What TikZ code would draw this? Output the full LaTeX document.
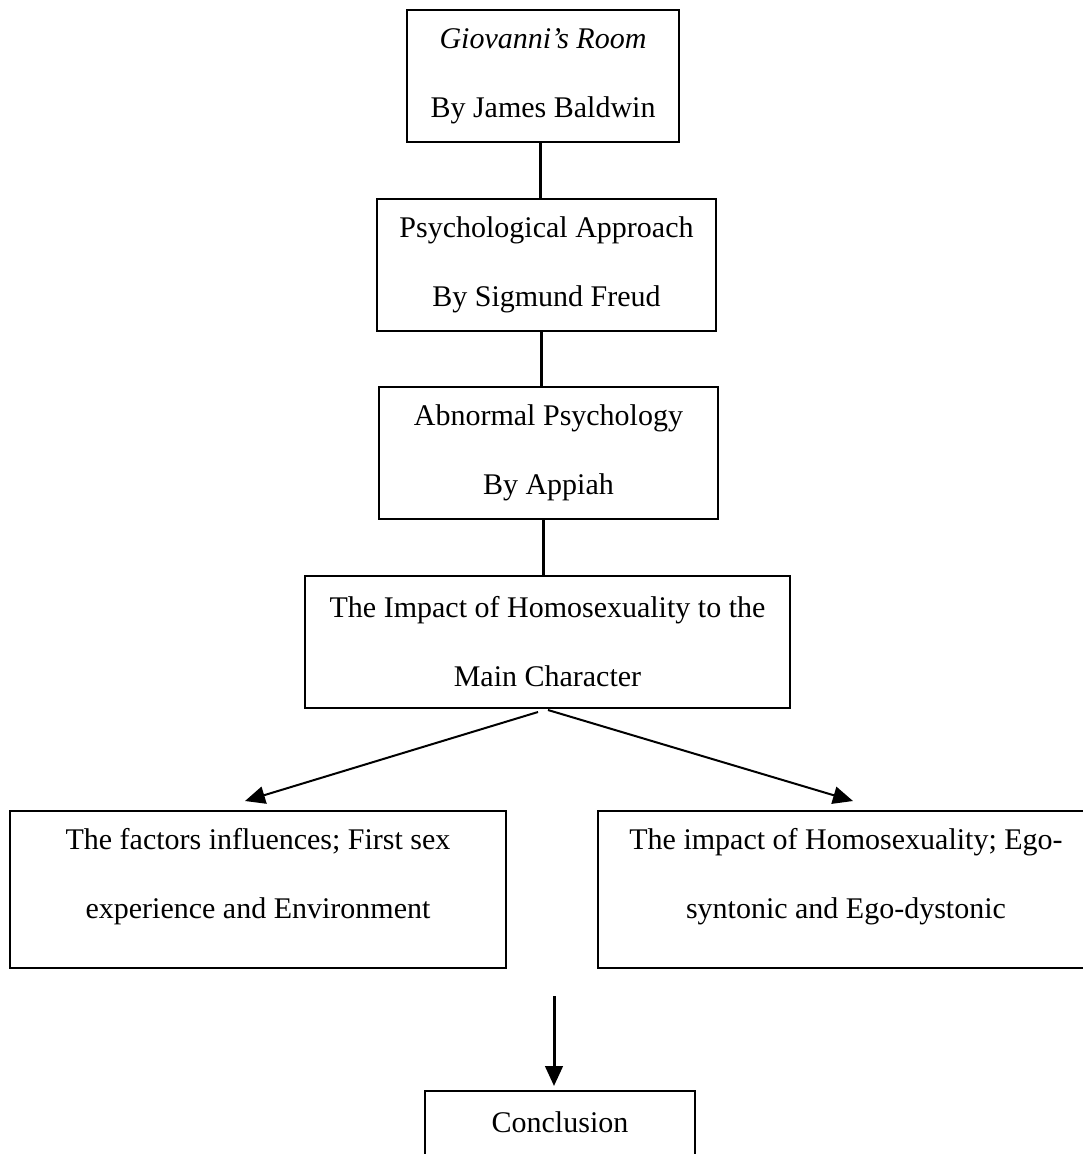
\documentclass[tikz,border=0pt]{standalone}
\usepackage{fontspec}
\setmainfont{Liberation Serif}
\usetikzlibrary{arrows.meta,positioning,calc}

\begin{document}
\begin{tikzpicture}
[x=0.4pt,y=-0.4pt,
box/.style={draw=black,line width=0.8pt,align=center,inner sep=0pt,
  minimum height=52.8pt,font=\fontsize{12}{27.6}\selectfont},
lowbox/.style={box,minimum width=198.4pt,minimum height=62.8pt,text depth=12.6pt},
link/.style={line width=1.2pt},
darrow/.style={line width=0.8pt,-{Triangle[length=8pt,width=7pt]}},
vdarrow/.style={line width=1.2pt,-{Triangle[length=8pt,width=7pt]}}]
\clip (0,0) rectangle (1083,1154);

% chain of boxes
\node[box,minimum width=108.8pt] (novel) at (543,76) {\textit{Giovanni’s Room}\\By James Baldwin};
\node[box,minimum width=135.6pt] (freud) at (546.5,265) {Psychological Approach\\By Sigmund Freud};
\node[box,minimum width=135.6pt] (appiah) at (548.5,453) {Abnormal Psychology\\By Appiah};
\node[box,minimum width=194pt] (impact) at (547.5,642) {The Impact of Homosexuality to the\\Main Character};
\draw[link] ($(novel.south)+(-3,0)$) -- ($(novel.south |- freud.north)+(-3,0)$);
\draw[link] ($(freud.south)+(-5.5,0)$) -- ($(freud.south |- appiah.north)+(-5.5,0)$);
\draw[link] ($(appiah.south)+(-5.5,0)$) -- ($(appiah.south |- impact.north)+(-5.5,0)$);

% the two branches
\node[lowbox] (factors) at (258,889.5) {The factors influences; First sex\\experience and Environment};
\node[lowbox] (ego) at (846,889.5) {The impact of Homosexuality; Ego-\\syntonic and Ego-dystonic};
\coordinate (forkL) at ($(impact.south)+(-9.5,3)$);
\coordinate (forkR) at ($(impact.south)+(0.5,1)$);
\coordinate (tipL) at ($(factors.north)+(-13,-9)$);
\coordinate (tipR) at ($(ego.north)+(7,-9)$);
\draw[darrow] (forkL) -- (tipL);
\draw[darrow] (forkR) -- (tipR);

% conclusion
\node[box,minimum width=108pt] (concl) at (560,1157) {Conclusion\\\mbox{}};
\coordinate (downfrom) at ($(concl.north)+(-6,-94)$);
\coordinate (downto) at ($(concl.north)+(-6,-4)$);
\draw[vdarrow] (downfrom) -- (downto);
\end{tikzpicture}
\end{document}
